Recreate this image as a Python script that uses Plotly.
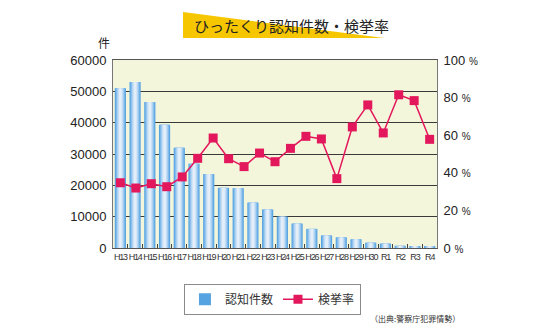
import plotly.graph_objects as go

years = ["H13", "H14", "H15", "H16", "H17", "H18", "H19", "H20", "H21", "H22", "H23",
         "H24", "H25", "H26", "H27", "H28", "H29", "H30", "R1", "R2", "R3", "R4"]
counts = [51000, 53000, 46600, 39300, 32000, 26900, 23600, 19200, 19100, 14500, 12300,
          10000, 7800, 6100, 4000, 3400, 2800, 1700, 1400, 700, 400, 600]
rates = [34.7, 31.9, 34.2, 32.6, 37.8, 47.7, 58.5, 47.5, 43.3, 50.5, 45.9,
         53.0, 59.4, 58.0, 36.9, 64.4, 76.1, 61.2, 81.5, 78.4, 57.8]
left_ticks = [0, 10000, 20000, 30000, 40000, 50000, 60000]
right_ticks = [0, 20, 40, 60, 80, 100]

JP = "Noto Sans CJK JP"
NUM = "Liberation Sans"

fig = go.Figure()

# gradient-like bars: overlay progressively narrower, lighter bars
layers = [(0.76, "#56a3e2"), (0.62, "#7db8ea"), (0.48, "#a3cdf1"), (0.34, "#c6def5"), (0.18, "#e4eef9")]
for i, (w, c) in enumerate(layers):
    fig.add_trace(go.Bar(
        x=years, y=counts, width=w, marker=dict(color=c, line=dict(width=0)),
        name="認知件数", showlegend=(i == 0), legendrank=1,
        hoverinfo="skip" if i else None,
    ))

fig.add_trace(go.Scatter(
    x=list(range(len(rates))), y=rates, xaxis="x2", yaxis="y2",
    mode="lines+markers", name="検挙率", legendrank=2,
    line=dict(color="#e3185c", width=1.5),
    marker=dict(symbol="square", size=9, color="#e3185c"),
))

n = len(years)
m = len(rates)

fig.update_layout(
    width=550, height=334,
    margin=dict(l=113, r=113, t=60, b=86),
    paper_bgcolor="white",
    plot_bgcolor="#f4f6dc",
    barmode="overlay",
    showlegend=True,
    legend=dict(
        orientation="h", x=0.219, y=-0.19, xanchor="left", yanchor="top",
        bgcolor="white", bordercolor="#8a8a8a", borderwidth=1,
        font=dict(family=JP, size=12, color="#333"),
        itemwidth=30, tracegroupgap=0,
    ),
    xaxis=dict(
        type="category", range=[-0.5, n - 0.5],
        tickvals=years,
        ticktext=[f"<span style='letter-spacing:-1.2px'>{y}</span>" for y in years],
        tickfont=dict(family=NUM, size=9, color="#333"),
        ticks="inside", tickson="boundaries", ticklen=4, tickcolor="#444",
        showline=True, linecolor="#555", linewidth=1, mirror=True,
        showgrid=False, tickangle=0, fixedrange=True,
    ),
    xaxis2=dict(
        overlaying="x", visible=False,
        range=[-(m - 1) / (n - 1) * 0.5, (m - 1) + (m - 1) / (n - 1) * 0.5],
        showgrid=False, zeroline=False,
    ),
    yaxis=dict(
        range=[0, 60000], tickvals=left_ticks, ticktext=[str(v) for v in left_ticks],
        tickfont=dict(family=NUM, size=13, color="#222"),
        showgrid=True, gridcolor="#3a3a3a", gridwidth=1,
        showline=True, linecolor="#777", linewidth=1,
        zeroline=False, ticks="", ticklabelstandoff=3,
    ),
    yaxis2=dict(
        overlaying="y", side="right", range=[0, 100],
        tickvals=right_ticks,
        ticktext=[f"{v} <span style='font-size:10px'>%</span>" for v in right_ticks],
        tickfont=dict(family=NUM, size=13, color="#222"),
        showgrid=False, zeroline=False, showline=True, linecolor="#777",
        ticks="", ticklabelstandoff=3,
    ),
)

# title banner
def px(x):
    return (x - 113) / 324
def py(y):
    return (248 - y) / 188

fig.add_shape(
    type="path", xref="paper", yref="paper",
    path=f"M {px(183)} {py(12)} L {px(384)} {py(38)} L {px(183)} {py(38)} Z",
    fillcolor="#f6c700", line=dict(width=0), layer="above",
)
fig.add_annotation(
    x=px(291), y=py(25), xref="paper", yref="paper", showarrow=False,
    text="ひったくり認知件数・検挙率", font=dict(family=JP, size=15, color="#222"),
    xanchor="center", yanchor="middle",
)
fig.add_annotation(
    x=px(104), y=py(43), xref="paper", yref="paper", showarrow=False,
    text="件", font=dict(family=JP, size=12, color="#222"),
    xanchor="center", yanchor="middle",
)
fig.add_annotation(
    x=px(462), y=py(318), xref="paper", yref="paper", showarrow=False,
    text="（出典:警察庁犯罪情勢）", font=dict(family=JP, size=8, color="#333"),
    xanchor="right", yanchor="middle",
)

fig.write_html("out.html")
